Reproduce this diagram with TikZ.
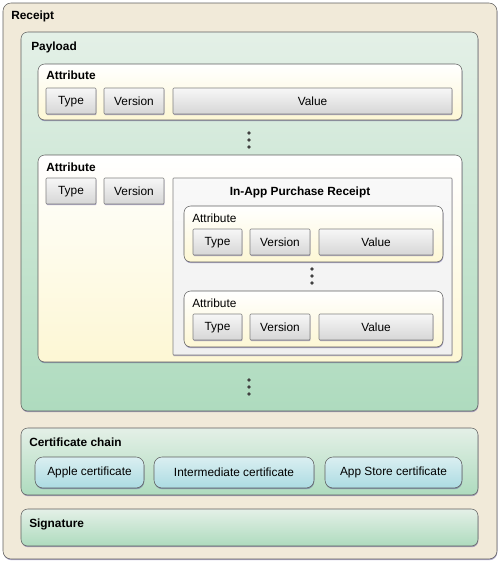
\documentclass[tikz,border=0pt]{standalone}
\usepackage{fontspec}
\setmainfont{Liberation Sans}
\usetikzlibrary{shadows}

\definecolor{receiptbg}{RGB}{241,234,217}
\definecolor{greentop}{RGB}{228,240,231}
\definecolor{greenbot}{RGB}{174,219,190}
\definecolor{yellowbot}{RGB}{253,247,212}
\definecolor{graytop}{RGB}{247,247,247}
\definecolor{graybot}{RGB}{214,214,214}
\definecolor{cyantop}{RGB}{218,239,241}
\definecolor{cyanbot}{RGB}{172,219,226}
\definecolor{edge}{RGB}{95,95,95}
\definecolor{shade}{RGB}{70,60,140}

\tikzset{
    txt/.style={font=\fontsize{8.9}{10}\selectfont},
    title/.style={txt, font=\fontsize{8.9}{10}\selectfont\bfseries, anchor=base west, inner sep=0pt},
    sublabel/.style={txt, anchor=base west, inner sep=0pt},
    sh/.style={drop shadow={shadow xshift=0.3pt, shadow yshift=-0.9pt, fill=shade, opacity=0.45}},
    receiptbox/.style={draw=edge, fill=receiptbg, rounded corners=6pt, sh},
    greenbox/.style={draw=edge, top color=greentop, bottom color=greenbot, rounded corners=5pt, sh},
    attrbox/.style={draw=edge, top color=white, bottom color=yellowbot, rounded corners=5pt, sh},
    graybox/.style={draw=gray, top color=graytop, bottom color=graybot, rounded corners=0.8pt, sh},
    iapbox/.style={draw=gray, top color=white!95!gray, bottom color=white!88!gray, rounded corners=0.5pt, sh},
    certbox/.style={draw=edge, top color=cyantop, bottom color=cyanbot, rounded corners=6pt, sh},
    dot/.style={fill=black!75},
}

\begin{document}
\begin{tikzpicture}[x=0.75pt, y=-0.75pt]
    \useasboundingbox (0,0) rectangle (500,562);

    % receipt
    \draw[receiptbox] (3,3) rectangle (497,559);
    \node[title] (receipt) at (11,19) {Receipt};

    % payload
    \draw[greenbox] (21,32) rectangle (478,411);
    \node[title] (payload) at (31,50) {Payload};

    % first attribute
    \draw[attrbox] (38,64) rectangle (462,120);
    \node[title] (attrA) at (46,79) {Attribute};
    \draw[graybox] (46,88) rectangle (96,114);
    \node[txt] (typeA) at (71,101.5) {Type};
    \draw[graybox] (104,88) rectangle (164,114);
    \node[txt] (versionA) at (134,101.5) {Version};
    \draw[graybox] (173,88) rectangle (452,114);
    \node[txt] (valueA) at (312.5,101.5) {Value};

    \foreach \y in {133,140,147}
        \fill[dot] (249,\y) circle (1.8);

    % second attribute
    \draw[attrbox] (38,155) rectangle (462,362);
    \node[title] (attrB) at (46,171) {Attribute};
    \draw[graybox] (46,178) rectangle (96,204);
    \node[txt] (typeB) at (71,191.5) {Type};
    \draw[graybox] (104,178) rectangle (164,204);
    \node[txt] (versionB) at (134,191.5) {Version};

    % in-app purchase receipt
    \draw[iapbox] (173,178) rectangle (452,355);
    \node[txt, font=\fontsize{8.9}{10}\selectfont\bfseries] (iap) at (300,192) {In-App Purchase Receipt};

    \draw[attrbox] (184,206) rectangle (443,262);
    \node[sublabel] (iattrA) at (192,222) {Attribute};
    \draw[graybox] (193,229) rectangle (242,255);
    \node[txt] (itypeA) at (217.5,242.5) {Type};
    \draw[graybox] (250,229) rectangle (310,255);
    \node[txt] (iversionA) at (280,242.5) {Version};
    \draw[graybox] (319,229) rectangle (433,255);
    \node[txt] (ivalueA) at (376,242.5) {Value};

    \foreach \y in {269,276,283}
        \fill[dot] (312,\y) circle (1.8);

    \draw[attrbox] (184,291) rectangle (443,347);
    \node[sublabel] (iattrB) at (192,307) {Attribute};
    \draw[graybox] (193,314) rectangle (242,340);
    \node[txt] (itypeB) at (217.5,327.5) {Type};
    \draw[graybox] (250,314) rectangle (310,340);
    \node[txt] (iversionB) at (280,327.5) {Version};
    \draw[graybox] (319,314) rectangle (433,340);
    \node[txt] (ivalueB) at (376,327.5) {Value};

    \foreach \y in {380,387,394}
        \fill[dot] (249,\y) circle (1.8);

    % certificate chain
    \draw[greenbox] (21,428) rectangle (478,495);
    \node[title] (chain) at (29,446) {Certificate chain};
    \draw[certbox] (35,457) rectangle (144,488);
    \node[txt] (apple) at (89.5,472.5) {Apple certificate};
    \draw[certbox] (154,457) rectangle (314,488);
    \node[txt] (inter) at (234,472.5) {Intermediate certificate};
    \draw[certbox] (325,457) rectangle (462,488);
    \node[txt] (store) at (393.5,472.5) {App Store certificate};

    % signature
    \draw[greenbox] (21,509) rectangle (478,546);
    \node[title] (signature) at (29,527) {Signature};
\end{tikzpicture}
\end{document}
